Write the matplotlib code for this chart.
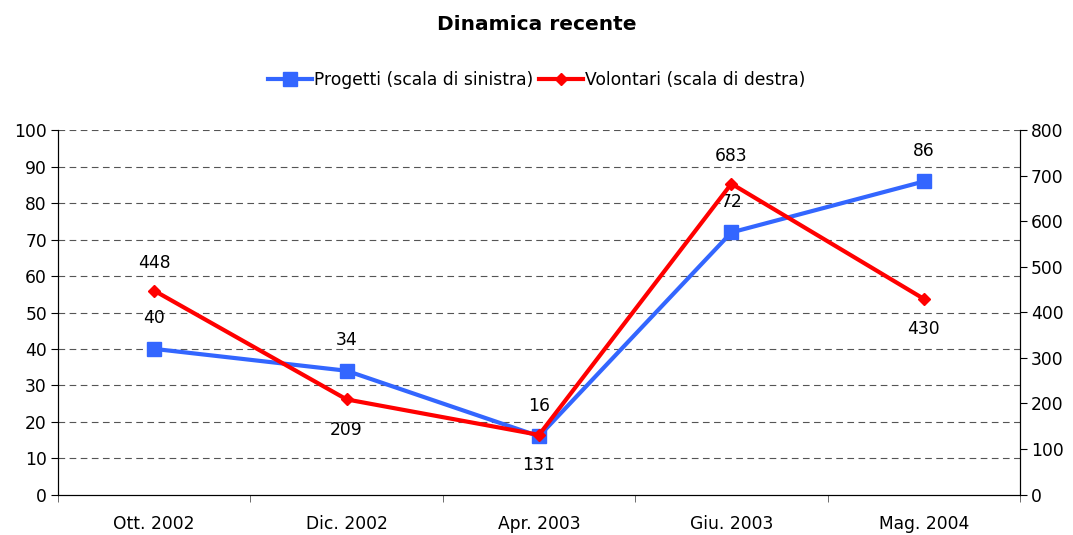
import matplotlib
matplotlib.use("Agg")
import matplotlib.pyplot as plt

categories = ["Ott. 2002", "Dic. 2002", "Apr. 2003", "Giu. 2003", "Mag. 2004"]
progetti = [40, 34, 16, 72, 86]
volontari = [448, 209, 131, 683, 430]
vol_label_pos = ["above", "below", "below", "above", "below"]

plt.rcParams['font.family'] = ['DejaVu Sans']
fig = plt.figure(figsize=(10.73, 5.35), dpi=100)
ax = fig.add_axes([58/1073, 1-494.5/535, 962/1073, 364/535])
ax2 = ax.twinx()

x = list(range(len(categories)))
blue = "#3366FF"
red = "#FF0000"
fs = 12.3

l1, = ax.plot(x, progetti, color=blue, lw=3, marker="s", ms=10, zorder=3,
              label="Progetti (scala di sinistra)")
l2, = ax2.plot(x, volontari, color=red, lw=3, marker="D", ms=6, zorder=4,
               label="Volontari (scala di destra)")

ax.set_xlim(-0.5, len(categories) - 0.5)
ax.set_ylim(0, 100)
ax2.set_ylim(0, 800)
ax.set_yticks(range(0, 101, 10))
ax2.set_yticks(range(0, 801, 100))
ax.set_xticks(x)
ax.set_xticklabels(categories)
ax.set_xticks([i - 0.5 for i in range(len(categories) + 1)], minor=True)
ax.tick_params(axis="x", which="major", length=0, pad=15, labelsize=fs)
ax.tick_params(axis="x", which="minor", length=5, color="#555555")
ax.tick_params(axis="y", length=5, labelsize=fs, direction="out", pad=3)
ax2.tick_params(axis="y", length=5, labelsize=fs, direction="out", pad=3)

for v in range(10, 101, 10):
    ax.axhline(v, color="#555555", lw=0.8, ls=(0, (6, 4)), zorder=1)

for sp in ["top"]:
    ax.spines[sp].set_visible(False)
    ax2.spines[sp].set_visible(False)

for xi, v in zip(x, progetti):
    ax.annotate(str(v), (xi, v), xytext=(0, 22), textcoords="offset points",
                ha="center", va="center", fontsize=fs)
for xi, v, pos in zip(x, volontari, vol_label_pos):
    dy = 20 if pos == "above" else -22
    ax2.annotate(str(v), (xi, v), xytext=(0, dy), textcoords="offset points",
                 ha="center", va="center", fontsize=fs)

fig.text(0.5, 1-25/535, "Dinamica recente", ha="center", va="center",
         fontsize=14.5, fontweight="bold")
fig.legend(handles=[l1, l2], loc="center", bbox_to_anchor=(0.5, 1-80/535),
           ncol=2, frameon=False, fontsize=fs, handlelength=2.6,
           handletextpad=0.1, columnspacing=0.3)

fig.savefig("out.png", dpi=100)
